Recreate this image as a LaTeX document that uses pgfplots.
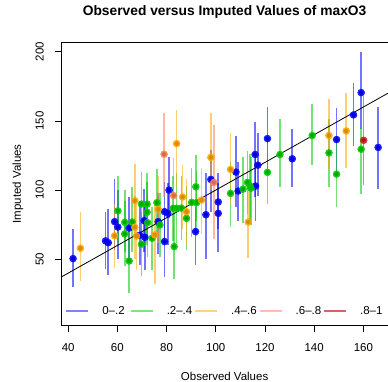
\documentclass[border=0pt]{standalone}
\usepackage{pgfplots}
\pgfplotsset{compat=1.18}
\usepackage{pgfplotstable}
\usepackage{fontspec}
\setmainfont{Liberation Sans}
\definecolor{cblue}{RGB}{0,0,255}
\definecolor{cgreen}{RGB}{0,200,0}
\definecolor{corange}{RGB}{255,165,0}
\definecolor{ccoral}{RGB}{255,127,80}
\definecolor{cred}{RGB}{205,30,30}

\pgfplotstableread{
x y lo hi
42.0 50.5 30 72
55.2 63.3 43 84
56.3 62.0 39 86
58.9 77.2 57 108
60.2 73.3 50 100
64.8 72.6 49 95
69.1 67.4 46 92
71.2 65.9 42 88
70.9 77.9 55 101
76.6 77.2 54 98
79.2 84.4 62 106
80.5 83.2 60 105
79.2 62.8 37.5 84
81.0 100.0 80 124
91.8 70.0 46 88
96.0 82.2 50 112
101.0 91.4 72 112
101.0 83.2 55 105
98.0 107.7 84 129
108.2 113.0 88 139
109.1 99.3 78 120
116.2 102.9 78 125
116.0 125.7 95 149
117.1 118.0 96 141
121.0 137.2 112 160
131.1 122.6 102 144
149.1 136.5 112 159
156.0 154.3 132 177
159.1 170.4 144 200
166.0 130.8 100.5 160
}\bluetab

\pgfplotstableread{
x y lo hi
60.2 85.0 62 110
63.0 76.7 55 100
63.0 68.3 45 92
64.8 48.8 26 70
66.0 77.0 55 102
69.8 89.9 66 113
72.1 89.9 68 112
72.1 84.0 60 106
72.3 76.5 52 98
69.8 60.9 38 84
74.1 65.2 42 88
76.1 90.9 66 115
77.3 74.8 52 98
82.7 86.8 63 110
84.1 86.8 62 112
83.1 59.2 36 84
86.0 87.0 64 110
88.1 79.6 57 103
90.2 91.1 66 116
92.2 90.9 67 114
91.9 102.4 78 125
106.0 97.6 73 120
111.1 100.7 76 124
112.9 105.5 83 128
113.9 102.9 78 126
114.3 101.4 75 124
121.0 112.8 90 137
126.1 125.7 102 151
139.2 139.4 118 162
146.0 126.9 102 151
149.1 111.5 88 136
159.1 129.5 97 145
}\greentab

\pgfplotstableread{
x y lo hi
45.0 58.0 34 84
58.9 67.0 44 90
67.1 92.3 68 119
67.1 73.1 50 96
67.8 66.8 42 90
75.2 67.6 32 92
76.6 86.1 62 110
84.1 133.6 102 158
86.5 95.0 72 118
88.1 84.4 60 108
94.2 92.8 68 116
98.0 123.6 100 156
106.0 114.9 90 141
113.2 76.9 51 102
146.0 139.4 115 166
153.0 142.7 116 170
}\orangetab

\pgfplotstableread{
x y lo hi
79.0 125.9 95 156
82.9 96.0 74 123
99.2 105.5 65 147
}\coraltab

\pgfplotstableread{
x y lo hi
160.1 136.0 103.6 167.7
}\redtab

\pgfplotsset{
  bars/.style={only marks, mark=none, forget plot,
    error bars/.cd, y dir=both, y explicit, error mark=none,
    error bar style={#1, line width=1.6pt, opacity=0.55}},
  dots/.style={only marks, mark=*, mark size=3.5pt, forget plot, color=#1,
    mark options={draw=none, fill=#1, fill opacity=0.85}},
}

\begin{document}
\begin{tikzpicture}
\begin{axis}[
  scale only axis, width=327pt, height=284pt,
  xmin=37.2, xmax=170, ymin=2, ymax=207,
  axis x line=box, axis y line=left,
  axis line style={-, line width=0.8pt},
  xtick={40,60,...,160}, ytick={50,100,150,200},
  xtick pos=left, ytick pos=left,
  tick align=outside, major tick length=6pt,
  tick style={black, line width=0.7pt},
  /pgf/number format/assume math mode=true,
  tick label style={font=\fontsize{11.5}{12}\selectfont},
  yticklabel style={rotate=90, anchor=south},
  xticklabel shift=8pt, yticklabel shift=8pt,
  title={Observed versus Imputed Values of maxO3},
  title style={font=\bfseries\fontsize{13.8}{15}\selectfont, at={([yshift=20pt]axis description cs:0.5,1)}, anchor=base},
  xlabel={Observed Values},
  xlabel style={font=\fontsize{11.5}{12}\selectfont, at={([yshift=-54.7pt]axis description cs:0.5,0)}, anchor=base},
  ylabel={Imputed Values},
  ylabel style={font=\fontsize{11.5}{12}\selectfont, at={([xshift=-40.3pt]axis description cs:0,0.5)}, rotate=0, anchor=base},
  legend columns=5,
  legend image code/.code={\draw[#1] (0pt,0pt) -- (22pt,0pt);},
  legend style={draw=none, fill=none, font=\fontsize{11.5}{12}\selectfont,
    at={(axis description cs:0,0)}, anchor=south west, xshift=1pt, yshift=6pt,
    /tikz/every odd column/.append style={column sep=11.4pt},
    /tikz/every even column/.append style={column sep=0pt, inner xsep=0pt, text width=25.6pt, align=left}},
]
\addplot[bars=cblue] table[x=x, y=y, y error plus expr=\thisrow{hi}-\thisrow{y}, y error minus expr=\thisrow{y}-\thisrow{lo}]{\bluetab};
\addplot[bars=cgreen] table[x=x, y=y, y error plus expr=\thisrow{hi}-\thisrow{y}, y error minus expr=\thisrow{y}-\thisrow{lo}]{\greentab};
\addplot[bars=corange] table[x=x, y=y, y error plus expr=\thisrow{hi}-\thisrow{y}, y error minus expr=\thisrow{y}-\thisrow{lo}]{\orangetab};
\addplot[bars=ccoral] table[x=x, y=y, y error plus expr=\thisrow{hi}-\thisrow{y}, y error minus expr=\thisrow{y}-\thisrow{lo}]{\coraltab};
\addplot[bars=cred] table[x=x, y=y, y error plus expr=\thisrow{hi}-\thisrow{y}, y error minus expr=\thisrow{y}-\thisrow{lo}]{\redtab};
\addplot[dots=cblue] table[x=x,y=y]{\bluetab};
\addplot[dots=cgreen] table[x=x,y=y]{\greentab};
\addplot[dots=corange] table[x=x,y=y]{\orangetab};
\addplot[dots=ccoral] table[x=x,y=y]{\coraltab};
\addplot[dots=cred] table[x=x,y=y]{\redtab};
\addplot[black, line width=0.8pt, forget plot] coordinates {(37.2,37.2) (170,170)};
\addlegendimage{draw=cblue!50, line width=1.5pt}
\addlegendentry{\mbox{0--.2}}
\addlegendimage{draw=cgreen!50, line width=1.5pt}
\addlegendentry{\mbox{.2--.4}}
\addlegendimage{draw=corange!50, line width=1.5pt}
\addlegendentry{\mbox{.4--.6}}
\addlegendimage{draw=ccoral!50, line width=1.5pt}
\addlegendentry{\mbox{.6--.8}}
\addlegendimage{draw=cred!70, line width=1.5pt}
\addlegendentry{\mbox{.8--1}}
\end{axis}
\pgfresetboundingbox
\path[use as bounding box] (-61.3pt,-56pt) rectangle (327pt,326pt);
\end{tikzpicture}
\end{document}
